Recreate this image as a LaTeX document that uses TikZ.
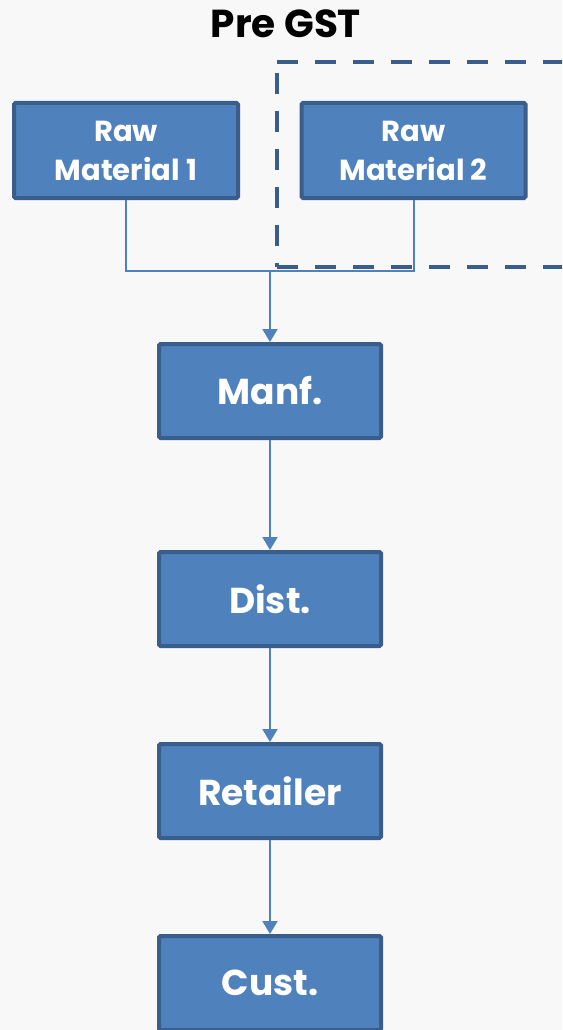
\documentclass[tikz,border=0pt]{standalone}
\usepackage{fontspec}
\setmainfont{Poppins}
\usetikzlibrary{arrows.meta}
\definecolor{boxfill}{HTML}{4F81BD}
\definecolor{boxline}{HTML}{3A5E8C}
\definecolor{bg}{HTML}{F8F8F8}
\begin{document}
\begin{tikzpicture}[x=1pt,y=-1pt,
 box/.style={draw=boxline, fill=boxfill, line width=4pt, rounded corners=1.5pt, text=white,
   font=\bfseries\fontsize{36}{44}\selectfont, minimum width=222pt, minimum height=94pt,
   inner sep=0pt, align=center},
 rawbox/.style={box, font=\bfseries\fontsize{29}{39}\selectfont, minimum width=224pt, minimum height=95pt},
 conn/.style={draw=boxfill, line width=2pt},
 arr/.style={conn, -{Triangle[length=13pt,width=15pt]}},
 region/.style={draw=boxline, line width=4pt, dash pattern=on 21pt off 17pt}]
\useasboundingbox (0,0) rectangle (562,1030);
\clip (0,0) rectangle (562,1030);
\fill[bg] (0,0) rectangle (562,1030);

\node[font=\bfseries\fontsize{39}{40}\selectfont, inner sep=0pt, anchor=base] (title) at (286,38) {Pre GST};

\coordinate (dtl) at (277,62);
\coordinate (dtr) at (600,62);
\coordinate (dbl) at (277,267);
\coordinate (dbr) at (600,267);
\draw[region] (dtl) -- (dtr);
\draw[region] (dbl) -- (dbr);
\draw[region, dash phase=27pt] (dtl) -- (dbl);

\node[rawbox] (rm1) at (126,150.5) {Raw\\Material 1};
\node[rawbox] (rm2) at (413.5,150.5) {Raw\\Material 2};
\node[box] (manf) at (270,391) {Manf.};
\node[box] (dist) at (270,599) {Dist.};
\node[box] (ret) at (270,791) {Retailer};
\node[box] (cust) at (270,983) {Cust.};

\coordinate (j) at (270,271);
\draw[conn] (rm1.south) |- (j) -| (rm2.south);
\draw[arr] (j) -- (manf.north);
\draw[arr] (manf.south) -- (dist.north);
\draw[arr] (dist.south) -- (ret.north);
\draw[arr] (ret.south) -- (cust.north);
\end{tikzpicture}
\end{document}
